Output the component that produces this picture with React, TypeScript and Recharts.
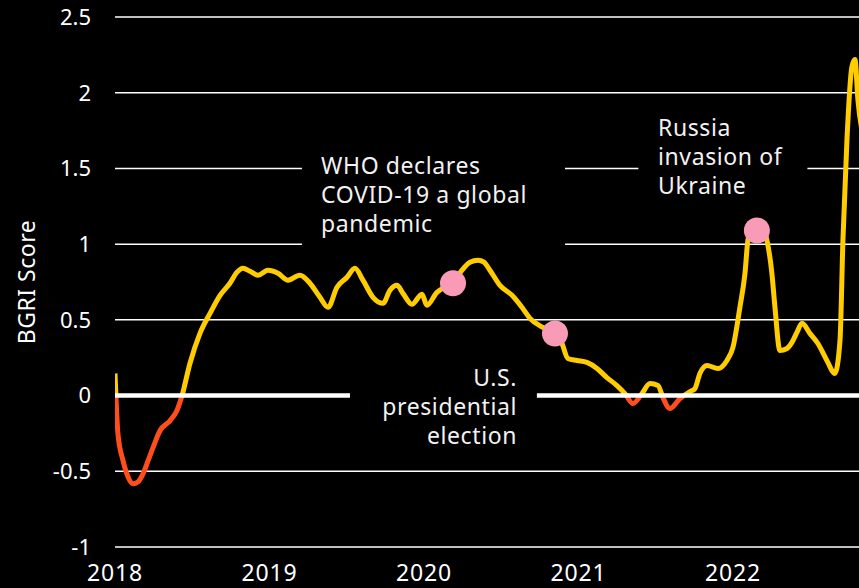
import { ComposedChart, Line, Scatter, XAxis, YAxis, ReferenceLine } from 'recharts'

// BGRI score (fractional year, score)
const dates = [
  2018.0, 2018.006, 2018.019, 2018.052, 2018.084, 2018.117, 2018.149, 2018.181, 2018.214, 2018.246,
  2018.291, 2018.356, 2018.401, 2018.434, 2018.485, 2018.55, 2018.615, 2018.68, 2018.744, 2018.79,
  2018.828, 2018.874, 2018.926, 2018.99, 2019.055, 2019.12, 2019.197, 2019.262, 2019.327, 2019.379,
  2019.437, 2019.502, 2019.553, 2019.605, 2019.67, 2019.735, 2019.78, 2019.825, 2019.864, 2019.922,
  2019.987, 2020.019, 2020.084, 2020.123, 2020.188, 2020.246, 2020.298, 2020.35, 2020.388, 2020.427,
  2020.492, 2020.57, 2020.634, 2020.686, 2020.77, 2020.848, 2020.893, 2020.932, 2020.99, 2021.055,
  2021.12, 2021.184, 2021.249, 2021.301, 2021.353, 2021.411, 2021.463, 2021.515, 2021.547, 2021.592,
  2021.657, 2021.722, 2021.754, 2021.786, 2021.832, 2021.903, 2021.961, 2022.0, 2022.045, 2022.078,
  2022.097, 2022.123, 2022.155, 2022.194, 2022.22, 2022.252, 2022.272, 2022.304, 2022.35, 2022.382,
  2022.414, 2022.447, 2022.498, 2022.55, 2022.608, 2022.66, 2022.693, 2022.712, 2022.738, 2022.77,
  2022.79, 2022.809, 2022.848
]
const scores = [
  0.146, 0.0, -0.252, -0.43, -0.536, -0.583, -0.57, -0.517, -0.43, -0.344,
  -0.232, -0.166, -0.099, 0.0, 0.212, 0.411, 0.543, 0.662, 0.742, 0.815,
  0.841, 0.821, 0.795, 0.828, 0.808, 0.762, 0.795, 0.742, 0.649, 0.583,
  0.715, 0.781, 0.841, 0.762, 0.649, 0.609, 0.695, 0.728, 0.675, 0.603,
  0.669, 0.596, 0.682, 0.709, 0.742, 0.828, 0.881, 0.894, 0.881, 0.828,
  0.728, 0.662, 0.583, 0.51, 0.45, 0.411, 0.344, 0.245, 0.232, 0.219,
  0.179, 0.119, 0.066, 0.013, -0.053, 0.013, 0.079, 0.066, -0.013, -0.086,
  -0.02, 0.026, 0.046, 0.146, 0.199, 0.179, 0.232, 0.318, 0.583, 0.808,
  1.026, 1.106, 1.126, 1.106, 1.026, 0.808, 0.583, 0.298, 0.311, 0.351,
  0.417, 0.477, 0.411, 0.344, 0.232, 0.146, 0.364, 1.026, 1.689, 2.172,
  2.219, 1.954, 1.689
]

const eventNames = ['WHO declares COVID-19 a global pandemic', 'U.S. presidential election', 'Russia invasion of Ukraine']
const eventDates = [2020.188, 2020.848, 2022.155]
const eventScores = [0.742, 0.41, 1.09]

const years = [2018, 2019, 2020, 2021, 2022]
const yTicks = [-1, -0.5, 0, 0.5, 1, 1.5, 2, 2.5]

const X_MIN = 2018
const X_MAX = 2022.816
const Y_MIN = -1
const Y_MAX = 2.5

// gaps cut into the gridlines behind the annotation text
const gridGaps: Record<string, [number, number][]> = {
  '1.5': [[2019.21, 2020.913], [2021.388, 2022.482]],
  '1': [[2019.21, 2020.913]],
  '0': [[2019.521, 2020.731]]
}

const YELLOW = '#FFCC00'
const ORANGE = '#FF4D1C'
const PINK = '#F99BB6'
const FONT = '"Noto Sans", sans-serif'

const PLOT_TOP = 17
const PLOT_BOTTOM = 547

const data = dates.map((t, i) => ({ t, v: scores[i] }))
const events = eventNames.map((name, i) => ({ name, t: eventDates[i], v: eventScores[i] }))

function segmentsFor(v: number): [number, number][] {
  const gaps = gridGaps[String(v)] || []
  const out: [number, number][] = []
  let start = X_MIN
  gaps.forEach(([a, b]) => {
    out.push([start, a])
    start = b
  })
  out.push([start, X_MAX])
  return out
}

const zeroOffset = (Y_MAX - 0) / (Y_MAX - Y_MIN)

const noteStyle: React.CSSProperties = {
  position: 'absolute',
  color: '#f2f2f2',
  fontFamily: FONT,
  fontSize: 23,
  letterSpacing: 0.6,
  lineHeight: '29px',
  whiteSpace: 'nowrap'
}

export default function App() {
  return (
    <div style={{ position: 'fixed', left: 0, top: 0, width: 859, height: 588, overflow: 'hidden', background: '#000' }}>
      <ComposedChart width={859} height={588} data={data} margin={{ top: PLOT_TOP, right: 0, bottom: 0, left: 0 }}>
        <defs>
          <linearGradient id="bgriStroke" gradientUnits="userSpaceOnUse" x1="0" y1={PLOT_TOP} x2="0" y2={PLOT_BOTTOM}>
            <stop offset={zeroOffset} stopColor={YELLOW} />
            <stop offset={zeroOffset} stopColor={ORANGE} />
          </linearGradient>
        </defs>
        <XAxis
          dataKey="t"
          type="number"
          domain={[X_MIN, X_MAX]}
          ticks={years}
          allowDataOverflow
          axisLine={false}
          tickLine={false}
          tickSize={0}
          tickMargin={0}
          height={41}
          tick={(p: any) => (
            <text x={p.x} y={p.y + 34} textAnchor="middle" fill="#fff" fontSize={23} letterSpacing={0.8} fontFamily={FONT}>
              {p.payload.value}
            </text>
          )}
        />
        <YAxis
          dataKey="v"
          type="number"
          domain={[Y_MIN, Y_MAX]}
          ticks={yTicks}
          allowDataOverflow
          axisLine={false}
          tickLine={false}
          tickSize={0}
          tickMargin={24}
          width={115}
          tick={{ fill: '#fff', fontSize: 22, fontFamily: FONT }}
        />
        {yTicks
          .filter((v) => v !== 0)
          .flatMap((v) =>
            segmentsFor(v).map(([a, b], i) => (
              <ReferenceLine
                key={`grid-${v}-${i}`}
                segment={[{ x: a, y: v }, { x: b, y: v }]}
                stroke="#fff"
                strokeWidth={1.5}
              />
            ))
          )}
        <Line
          type="monotone"
          dataKey="v"
          stroke="url(#bgriStroke)"
          strokeWidth={5}
          dot={false}
          activeDot={false}
          isAnimationActive={false}
        />
        {segmentsFor(0).map(([a, b], i) => (
          <ReferenceLine
            key={`zero-${i}`}
            segment={[{ x: a, y: 0 }, { x: b, y: 0 }]}
            stroke="#fff"
            strokeWidth={4.5}
            zIndex={450}
          />
        ))}
        <Scatter
          data={events}
          dataKey="v"
          isAnimationActive={false}
          shape={(p: any) => <circle cx={p.cx} cy={p.cy} r={13} fill={PINK} />}
        />
      </ComposedChart>

      <div
        style={{
          position: 'absolute',
          left: 26,
          top: 282,
          transform: 'translate(-50%, -50%) rotate(-90deg)',
          color: '#fff',
          fontFamily: FONT,
          fontSize: 23,
          letterSpacing: 0.5,
          whiteSpace: 'nowrap'
        }}
      >
        BGRI Score
      </div>

      <div style={{ ...noteStyle, left: 321, top: 151 }}>
        WHO declares
        <br />
        COVID-19 a global
        <br />
        pandemic
      </div>
      <div style={{ ...noteStyle, left: 658, top: 113 }}>
        Russia
        <br />
        invasion of
        <br />
        Ukraine
      </div>
      <div style={{ ...noteStyle, right: 859 - 517, top: 363, textAlign: 'right' }}>
        U.S.
        <br />
        presidential
        <br />
        election
      </div>
    </div>
  )
}
